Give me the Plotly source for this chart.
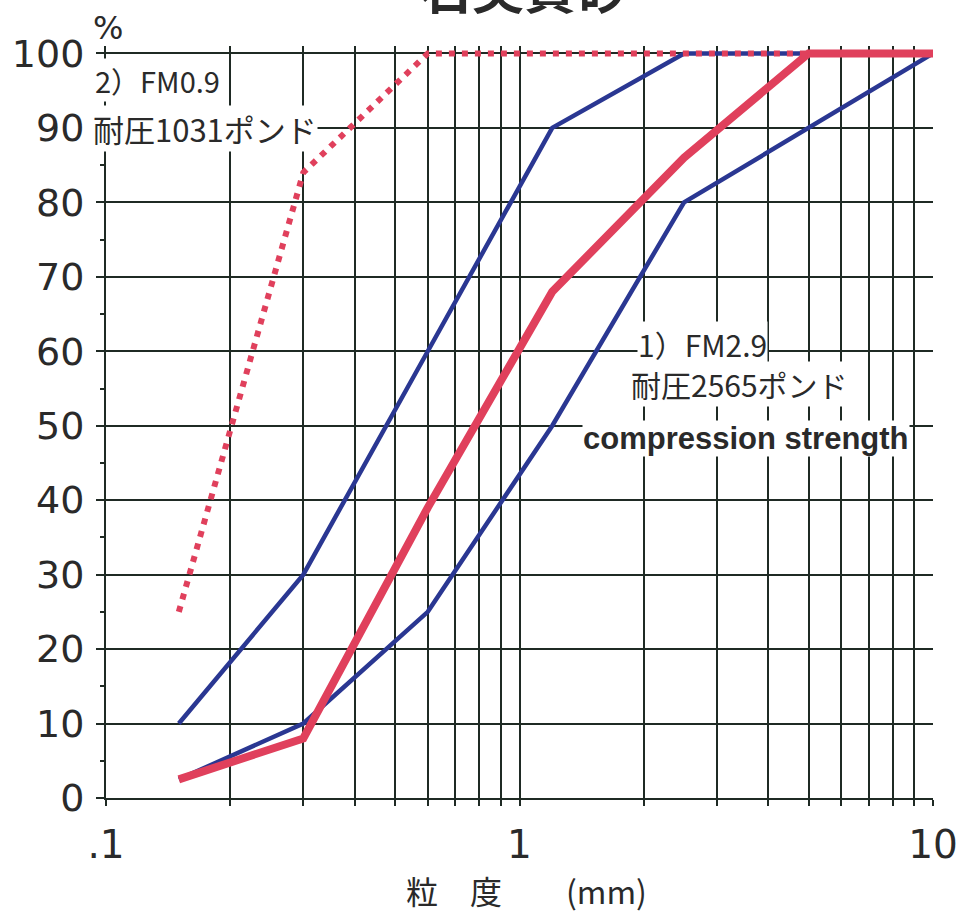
import plotly.graph_objects as go

# ---- data ----
sieve_mm = [0.15, 0.3, 0.6, 1.2, 2.5, 5, 10]
upper_limit = [10, 30, 60, 90, 100, 100, 100]      # blue, fine-side limit
lower_limit = [2.5, 10, 25, 50, 80, 90, 100]       # blue, coarse-side limit
sand_fm29 = [2.5, 8, 39, 68, 86, 100, 100]         # 1) FM2.9 (solid red)
sand_fm09 = [25, 84, 100, 100, 100, 100, 100]      # 2) FM0.9 (dotted red)

x_tickvals = [0.1, 0.2, 0.3, 0.4, 0.5, 0.6, 0.7, 0.8, 0.9,
              1, 2, 3, 4, 5, 6, 7, 8, 9, 10]
x_ticktext = [".1", "", "", "", "", "", "", "", "",
              "1", "", "", "", "", "", "", "", "", "10"]
y_tickvals = [0, 10, 20, 30, 40, 50, 60, 70, 80, 90, 100]
y_ticktext = ["0", "10", "20", "30", "40", "50", "60", "70", "80", "90", "100"]

title_text = "石英質砂"
x_title = "粒　度　　(mm)"
label_fm09 = ["2）FM0.9", "耐圧1031ポンド"]
label_fm29 = ["1）FM2.9", "耐圧2565ポンド", "compression strength"]

BLUE = "#2a3792"
RED = "#e0405c"
GRID = "#1f2a24"

fig = go.Figure()
fig.add_trace(go.Scatter(x=sieve_mm, y=upper_limit, mode="lines",
                         line=dict(color=BLUE, width=4.5), showlegend=False))
fig.add_trace(go.Scatter(x=sieve_mm, y=lower_limit, mode="lines",
                         line=dict(color=BLUE, width=4.5), showlegend=False))
fig.add_trace(go.Scatter(x=sieve_mm, y=sand_fm09, mode="lines",
                         line=dict(color=RED, width=6, dash="6px,7px"),
                         showlegend=False))
fig.add_trace(go.Scatter(x=sieve_mm, y=sand_fm29, mode="lines",
                         line=dict(color=RED, width=8), showlegend=False))

W, H = 970, 918
L, R, T, B = 102, 32, 46, 120
ph = H - T - B

def py(pix):
    return 1 - (pix - T) / ph

def px(pix):
    return (pix - L) / (W - L - R)

fig.update_layout(
    width=W, height=H,
    margin=dict(l=L, r=R, t=T, b=B),
    paper_bgcolor="white", plot_bgcolor="white",
    font=dict(family="Noto Sans CJK JP", color="#2a2a2a"),
    xaxis=dict(type="log", range=[-1, 1], tickvals=x_tickvals, ticktext=x_ticktext,
               showgrid=True, gridcolor=GRID, gridwidth=2,
               showline=True, linecolor=GRID, linewidth=2,
               ticks="outside", ticklen=6, tickwidth=2, tickcolor=GRID,
               ticklabelstandoff=5,
               tickfont=dict(family="DejaVu Sans", size=39, color="#2a2a2a"),
               zeroline=False),
    yaxis=dict(range=[0, 101], tickvals=y_tickvals, ticktext=y_ticktext,
               showgrid=True, gridcolor=GRID, gridwidth=2,
               showline=True, linecolor=GRID, linewidth=2,
               ticks="outside", ticklen=8, tickwidth=2, tickcolor=GRID,
               ticklabelstandoff=4,
               tickfont=dict(family="DejaVu Sans", size=38, color="#2a2a2a"),
               minor=dict(tickvals=[5, 15, 25, 35, 45, 55, 65, 75, 85, 95],
                          ticks="outside", ticklen=4, tickwidth=2,
                          tickcolor=GRID, showgrid=False),
               zeroline=False),
)

ann = []
# title (cut off at the top of the page, as in the scanned original)
ann.append(dict(text="<b>" + title_text + "</b>", xref="paper", yref="paper",
                x=px(525), y=py(26), xanchor="center", yanchor="bottom",
                showarrow=False, font=dict(size=52, color="#2a2a2a",
                                           family="Noto Sans CJK JP")))
ann.append(dict(text="%", xref="paper", yref="paper", x=px(104), y=py(28),
                xanchor="center", yanchor="middle", showarrow=False,
                font=dict(size=32, family="DejaVu Sans", color="#2a2a2a")))
ann.append(dict(text=x_title, xref="paper", yref="paper", x=px(527), y=py(890),
                xanchor="center", yanchor="middle", showarrow=False,
                font=dict(size=32, family="Noto Sans CJK JP", color="#2a2a2a")))
# FM0.9 labels
ann.append(dict(text=label_fm09[0], xref="paper", yref="paper", x=px(90), y=py(80),
                xanchor="left", yanchor="middle", showarrow=False,
                bgcolor="white", borderpad=0,
                font=dict(size=29, color="#2a2a2a")))
ann.append(dict(text=label_fm09[1], xref="paper", yref="paper", x=px(88), y=py(128),
                xanchor="left", yanchor="middle", showarrow=False,
                bgcolor="white", borderpad=0,
                font=dict(size=31, color="#2a2a2a")))
# FM2.9 labels
ann.append(dict(text=label_fm29[0], xref="paper", yref="paper", x=px(705), y=py(344),
                xanchor="center", yanchor="middle", showarrow=False,
                bgcolor="white", borderpad=0,
                font=dict(size=30, color="#2a2a2a")))
ann.append(dict(text=label_fm29[1], xref="paper", yref="paper", x=px(742), y=py(384),
                xanchor="center", yanchor="middle", showarrow=False,
                bgcolor="white", borderpad=0,
                font=dict(size=30, color="#2a2a2a")))
ann.append(dict(text="<b>" + label_fm29[2] + "</b>", xref="paper", yref="paper",
                x=px(749), y=py(438), xanchor="center", yanchor="middle",
                showarrow=False, bgcolor="white", borderpad=0,
                font=dict(size=31, family="Liberation Sans", color="#2a2a2a")))
fig.update_layout(annotations=ann)

fig.write_html("out.html")
